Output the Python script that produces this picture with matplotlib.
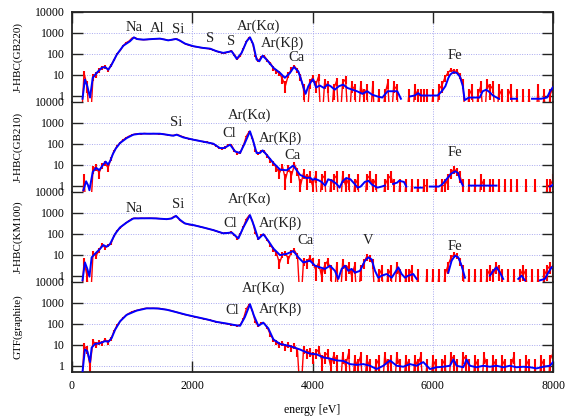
import numpy as np
import matplotlib
matplotlib.use("Agg")
import matplotlib.pyplot as plt

plt.rcParams['font.family'] = ['Liberation Serif', 'DejaVu Serif']
nan = float('nan')

# --- data ---
panel_names = ["J-HBC(GB220)", "J-HBC(GB210)", "J-HBC(KM100)", "GTF(graphite)"]

# raw counts, 50 eV bins from 150 eV to 8000 eV
e_raw = np.arange(150, 8001, 50)

raw1 = [0, 12, 3, 0, 8, 10, 16, 22, 24, 17, 28, 50, 95, 140, 230, 330, 400, 560, 580, 480,
        470, 460, 470, 490, 500, 510, 520, 500, 470, 430, 450, 490, 500, 400, 330, 280, 250, 230, 215, 200,
        190, 185, 175, 170, 150, 130, 120, 108, 110, 120, 135, 90, 56, 80, 170, 380, 600, 350, 80, 45,
        70, 75, 48, 35, 20, 14, 12, 6, 3, 10, 18, 25, 16, 8, 2, 0, 4, 7, 3, 8,
        0, 4, 3, 0, 2, 5, 0, 4, 6, 0, 3, 2, 0, 3, 1, 2, 0, 3, 0, 1,
        0, 1, 4, 0, 3, 2, 0, 0, 0, 1, 0, 2, 1, 1, 1, 1, 0, 1, 0, 2,
        3, 7, 12, 17, 14, 15, 9, 4, 0, 1, 2, 0, 1, 3, 0, 4, 2, 3, 0, 2,
        1, 0, 1, 2, 0, 1, 0, 1, 0, 1, 0, 0, 2, 0, 1, 0, 1, 3]
raw2 = [0, 2, 0, 0, 6, 8, 4, 9, 12, 7, 20, 45, 75, 110, 150, 190, 230, 260, 290, 300,
        290, 310, 300, 295, 305, 300, 290, 300, 275, 260, 245, 255, 275, 240, 210, 190, 170, 160, 150, 140,
        130, 125, 118, 105, 100, 80, 62, 58, 66, 85, 88, 48, 36, 38, 80, 230, 390, 190, 48, 34,
        46, 42, 26, 16, 12, 7, 4, 8, 2, 7, 3, 10, 5, 1, 4, 2, 3, 1, 3, 0,
        2, 3, 0, 1, 2, 3, 0, 3, 1, 2, 0, 1, 2, 0, 0, 2, 3, 1, 2, 0,
        0, 1, 2, 3, 1, 0, 1, 0, 1, 0, 1, 0, 1, 0, 1, 1, 0, 0, 1, 0,
        1, 1, 2, 4, 6, 5, 3, 1, 0, 1, 0, 1, 0, 2, 1, 0, 1, 1, 0, 1,
        0, 1, 0, 1, 0, 1, 0, 0, 1, 0, 0, 1, 0, 0, 0, 1, 1, 2]
raw3 = [0, 5, 1, 0, 12, 9, 16, 30, 22, 28, 35, 80, 140, 190, 260, 330, 420, 520, 560, 540,
        560, 545, 555, 560, 540, 550, 530, 520, 500, 510, 540, 680, 640, 430, 340, 300, 270, 260, 250, 230,
        210, 195, 180, 165, 150, 135, 120, 108, 106, 110, 118, 90, 60, 95, 210, 500, 780, 420, 110, 58,
        85, 90, 50, 30, 18, 12, 4, 10, 12, 6, 14, 16, 9, 0, 5, 4, 7, 5, 2, 4,
        1, 3, 5, 2, 0, 3, 0, 4, 2, 3, 1, 3, 0, 2, 4, 8, 7, 4, 0, 1,
        2, 0, 1, 2, 0, 3, 1, 0, 1, 1, 2, 0, 1, 0, 0, 1, 0, 1, 0, 1,
        0, 1, 3, 7, 10, 9, 5, 2, 0, 1, 0, 1, 0, 1, 0, 1, 2, 1, 3, 2,
        1, 0, 1, 0, 1, 0, 1, 2, 1, 0, 1, 0, 1, 0, 1, 2, 3, 2]
raw4 = [0, 9, 6, 1, 15, 10, 14, 12, 18, 13, 20, 45, 85, 130, 190, 260, 320, 380, 420, 460,
        500, 540, 560, 550, 560, 540, 550, 520, 490, 460, 430, 390, 350, 320, 290, 270, 250, 230, 215, 200,
        185, 170, 160, 150, 135, 125, 118, 110, 104, 98, 92, 88, 82, 90, 170, 520, 870, 420, 120, 80,
        110, 105, 65, 30, 18, 13, 10, 12, 8, 10, 7, 9, 5, 0, 6, 4, 5, 3, 4, 6,
        2, 3, 4, 1, 3, 2, 0, 3, 1, 4, 0, 2, 1, 3, 0, 2, 1, 0, 1, 2,
        0, 3, 1, 2, 0, 3, 1, 0, 2, 1, 0, 2, 1, 3, 0, 1, 0, 2, 1, 0,
        1, 2, 0, 3, 2, 1, 0, 3, 2, 1, 0, 2, 1, 0, 3, 1, 0, 2, 1, 0,
        2, 1, 0, 1, 3, 0, 1, 0, 2, 1, 0, 1, 0, 2, 1, 0, 2, 4]

# smoothed spectra
e_fit1 = [175, 215, 255, 300, 345, 410, 495, 550, 605, 660, 745, 855, 965, 1030, 1075, 1185, 1350,
          1465, 1600, 1730, 1795, 1880, 2020, 2185, 2295, 2405, 2515, 2655, 2740, 2820, 2905, 2960,
          3015, 3070, 3115, 3170, 3235, 3350, 3460, 3540, 3625, 3690, 3765, 3845, 3885, 3930, 3985,
          4010, 4060, 4120, 4190, 4250, 4300, 4370, 4440, 4510, 4580, 4660, 4740, 4830, 4910, 4990,
          5080, 5160, 5250, 5330, 5410, 5470, 5520, 5620, 5700, 5760, 5800, 5900, 6000, 6080, 6150,
          6210, 6260, 6290, 6340, 6400, 6450, 6500, 6530, 6600, 6700, 6780, 6830, 6890, 6950, 7000,
          7100, 7200, 7300, 7400, 7500, 7650, 7800, 7900, 7950, 8000]
fit1 = [0.7, 5.8, 2.8, 0.8, 7, 12, 21, 23, 17, 30, 90, 240, 390, 600, 500, 465, 500,
        520, 430, 500, 420, 300, 225, 186, 173, 130, 108, 130, 56, 108, 390, 600,
        270, 52, 43, 80, 52, 21, 12, 7, 12, 23, 14, 2.8, 1.2, 2.8, 5,
        6, 2.4, 3, 2.3, 3.3, 2.8, 1.9, 2.8, 3.3, 2.3, 1.9, 1.6, 1.2, 1.6, 1.1,
        0.9, 0.8, 1.6, 1.6, 1.6, 0.7, nan, 0.9, 1.0, 1.3, 1.0, 1.0, 1.0, 1.0, 1.6,
        2.8, 7, 10, 13, 12, 8, 2.8, 0.6, 0.8, 0.8, 0.8, 1.6, 1.9, 1.4, 1.0,
        0.7, nan, 0.7, 0.7, nan, 0.7, 0.7, 0.8, 1.6, 2.5]

e_fit2 = [190, 235, 270, 290, 345, 400, 455, 520, 560, 600, 640, 680, 730, 800, 910, 1020, 1130,
          1300, 1460, 1575, 1685, 1740, 1850, 2020, 2185, 2350, 2460, 2530, 2630, 2710, 2795, 2875,
          2960, 3015, 3070, 3125, 3170, 3235, 3350, 3460, 3570, 3680, 3790, 3900, 3960, 4000, 4040,
          4100, 4150, 4210, 4260, 4330, 4400, 4450, 4500, 4560, 4630, 4700, 4750, 4800, 4870, 4930,
          4990, 5080, 5150, 5200, 5260, 5340, 5410, 5440, 5520, 5560, 5600, 5700, 5820, 5870,
          5950, 6100, 6150, 6200, 6250, 6300, 6370, 6420, 6450, 6500, 6540, 6600, 7000, 7060, 7200,
          7950, 8000]
fit2 = [0.6, 1.6, 1.0, 0.6, 4.5, 7, 5.5, 10, 14, 10, 16, 32, 60, 108, 186, 270, 300,
        300, 300, 270, 240, 270, 200, 155, 125, 100, 62, 62, 90, 43, 36, 108,
        390, 130, 36, 36, 48, 30, 12, 5.8, 5.4, 9, 3.3, 2.3, 2.4, 1.9, 2.1,
        1.8, 1.5, 1.0, 2.0, 1.7, 1.2, 0.8, 1.6, 2.3, 2.0, 1.2, 0.8, 0.9, 1.5, 1.7,
        1.1, 0.8, 0.9, 1.0, nan, 1.2, 1.4, 1.7, 1.5, 0.9, nan, 0.8, 0.8, nan,
        0.9, 0.9, 1.1, 1.6, 2.4, 3.6, 4.8, 4.0, 2.0, 1.0, nan, 1.0, 1.0, 1.0, nan,
        0.9, 1.1]

e_fit3 = [175, 215, 255, 290, 327, 382, 466, 521, 576, 632, 715, 798, 909, 1020, 1186, 1353,
          1575, 1658, 1730, 1796, 1879, 2018, 2184, 2350, 2517, 2656, 2767, 2849, 2960, 3027,
          3099, 3182, 3265, 3348, 3459, 3570, 3681, 3764, 3847, 3958, 4041, 4124, 4207, 4290,
          4373, 4429, 4484, 4540, 4595, 4651, 4706, 4789, 4872, 4928, 4983, 5039, 5094, 5150,
          5233, 5316, 5371, 5427, 5482, 5538, 5593, 5676, 5731, 5800, 6258, 6313, 6368, 6424,
          6479, 6535, 6600, 6950, 7005, 7061, 7116, 7171, 7250, 7421, 7477, 7532, 7600, 7781,
          7864, 7920, 7975]
fit3 = [0.6, 4.3, 2.1, 0.9, 7.5, 11, 19, 29, 24, 32, 96, 200, 345, 540, 550, 550,
        500, 540, 720, 465, 310, 260, 200, 150, 105, 115, 60, 200, 780, 240,
        56, 96, 46, 20, 9.6, 11, 15, 7.5, 4.3, 5.2, 3, 2.5, 2.1, 3,
        1.7, 0.7, 2.1, 3, 1.7, 2.1, 1.4, 1.7, 5.2, 7.5, 6, 1.7, 0.8, 1.0,
        1.2, 0.8, 1.4, 2.5, 1.2, 0.8, 1.0, 1.2, 0.7, nan, 1.4, 5.2, 9, 7.5,
        3, 0.8, nan, 1.0, 1.7, 2.5, 1.4, 0.7, nan, 0.7, 1.0, 0.6, nan, 0.6,
        0.7, 1.4, 2.5]

e_fit4 = [175, 215, 255, 300, 327, 382, 466, 550, 605, 660, 715, 800, 910, 1075, 1240, 1410,
          1575, 1740, 1905, 2075, 2240, 2405, 2570, 2710, 2795, 2875, 2960, 3025, 3100, 3180,
          3265, 3350, 3460, 3625, 3790, 3905, 3960, 4069, 4179, 4290, 4401, 4512, 4623, 4734,
          4845, 4955, 5066, 5177, 5288, 5399, 5510, 5620, 5731, 5842, 5953, 6064, 6175, 6285,
          6341, 6396, 6507, 6562, 6617, 6728, 6839, 6950, 7061, 7171, 7282, 7393, 7504, 7615,
          7726, 7837, 7947, 8000]
fit4 = [0.5, 6, 5, 1.5, 7.3, 11, 12, 15, 14, 21, 51, 133, 270, 430, 550, 550,
        475, 360, 270, 210, 165, 124, 104, 87, 81, 210, 870, 250, 81, 115,
        61, 18, 11, 8.7, 6, 4.3, 3.8, 3.5, 2.5, 2.2, 1.8, 1.7, 1.2, 1.1,
        1.2, 1.0, 0.7, 1.0, 1.8, 1.0, 0.9, 1.2, 1.0, 1.5, 0.7, 0.85, 0.9, 1.0,
        2.0, 1.0, 0.85, 2.0, 1.0, 0.85, 1.0, 0.9, 1.0, 0.85, 1.0, 0.85, 0.9, 0.85,
        0.75, 0.9, 1.0, 1.5]

raws = [raw1, raw2, raw3, raw4]
fits = [(e_fit1, fit1), (e_fit2, fit2), (e_fit3, fit3), (e_fit4, fit4)]

# peak labels: (text, energy, counts)
notes = [
    [("Na", 1030, 1820), ("Al", 1420, 1620), ("Si", 1770, 1400), ("S", 2295, 500),
     ("S", 2645, 370), ("Ar(Kα)", 3105, 2040), ("Ar(Kβ)", 3505, 320), ("Ca", 3725, 66),
     ("Fe", 6370, 80)],
    [("Si", 1730, 980), ("Ar(Kα)", 2945, 2190), ("Cl", 2615, 310), ("Ar(Kβ)", 3470, 178),
     ("Ca", 3665, 28), ("Fe", 6370, 38)],
    [("Na", 1030, 1620), ("Si", 1770, 2500), ("Ar(Kα)", 2960, 4470), ("Cl", 2630, 310),
     ("Ar(Kβ)", 3470, 310), ("Ca", 3875, 48), ("V", 4930, 48), ("Fe", 6370, 26)],
    [("Cl", 2665, 450), ("Ar(Kα)", 3180, 5100), ("Ar(Kβ)", 3470, 500)],
]

yticks = [1, 10, 100, 1000, 10000]
ytick_labels = ["1", "10", "100", "1000", "10000"]
xticks = [0, 2000, 4000, 6000, 8000]

fig = plt.figure(figsize=(5.69, 4.19), dpi=100)
axes = fig.subplots(4, 1, sharex=True)
fig.subplots_adjust(left=0.1265, right=0.972, top=0.972, bottom=0.112, hspace=0)

for i, ax in enumerate(axes):
    ax.set_yscale('log')
    ax.set_ylim(0.5, 10000)
    ax.set_xlim(0, 8000)

    # grid
    for y in yticks[:-1]:
        ax.axhline(y, color='#a8a8f0', lw=0.7, ls=(0, (1, 1.5)), zorder=0)
    for x in xticks[1:-1]:
        ax.axvline(x, color='#a8a8f0', lw=0.7, ls=(0, (1, 1.5)), zorder=0)

    # raw counts with poisson error bars; empty bins drop below the axis floor
    counts = np.array(raws[i], dtype=float)
    err = np.sqrt(counts)
    has = counts > 0
    ax.vlines(e_raw[has], np.maximum(counts[has] - err[has], 0.02), counts[has] + err[has],
              color='#ff0000', lw=1.5, zorder=2)
    counts[~has] = 0.02
    ax.plot(e_raw, counts, color='#ff0000', lw=1.0, zorder=2)
    ax.plot(fits[i][0], fits[i][1], color='#0000ff', lw=1.4, zorder=3)

    for txt, x, y in notes[i]:
        ax.text(x, y, txt, ha='center', va='center', fontsize=10.5, color='#222222')

    ax.set_yticks(yticks)
    ax.set_yticklabels(ytick_labels)
    ax.yaxis.set_minor_locator(matplotlib.ticker.NullLocator())
    ax.tick_params(axis='y', which='major', direction='in', length=8, width=1.0,
                   left=True, right=True, labelsize=8.5, pad=5, color='#222222')
    ax.set_xticks(xticks)
    ax.tick_params(axis='x', direction='in', length=8, width=1.0, labelsize=8.5, pad=6,
                   top=(i == 0), bottom=(i == 3), labelbottom=(i == 3), color='#222222')

    for side in ['left', 'right', 'top', 'bottom']:
        ax.spines[side].set_color('#222222')
        ax.spines[side].set_linewidth(1.3)
    ax.spines['top'].set_visible(i == 0)
    ax.spines['bottom'].set_visible(i == 3)

    pos = ax.get_position()
    fig.text(18 / 569, (pos.y0 + pos.y1) / 2, panel_names[i], rotation=90,
             ha='center', va='center', fontsize=8)

axes[3].set_xlabel("energy [eV]", fontsize=8.5, labelpad=8)

fig.savefig("out.png", dpi=100)
